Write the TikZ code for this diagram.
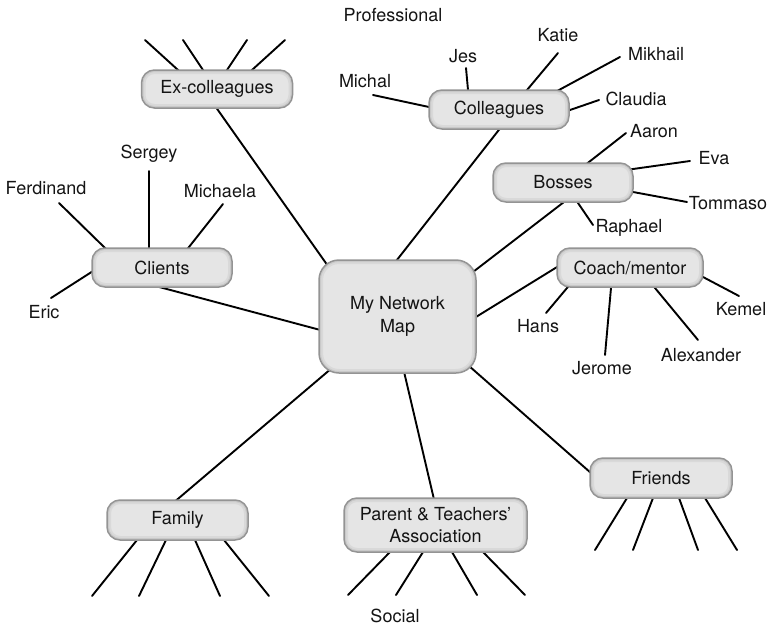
\documentclass[tikz,border=0pt]{standalone}
\usepackage{fontspec}
\setmainfont{TeX Gyre Heros}
\usetikzlibrary{backgrounds,calc}
\begin{document}
\begin{tikzpicture}[x=1pt,y=-1pt,
  every node/.style={font=\fontsize{18}{22.5}\selectfont, text=black!92},
  hub/.style={draw=black!42, line width=1.5pt, fill=black!10,
    rounded corners=#1, inner sep=0pt, align=center,
    path picture={
      \draw[black!15, line width=8pt, rounded corners=#1]
        (path picture bounding box.south west) rectangle (path picture bounding box.north east);
      \draw[black!21, line width=4pt, rounded corners=#1]
        (path picture bounding box.south west) rectangle (path picture bounding box.north east);
    }},
  hub/.default=13pt,
  lbl/.style={inner sep=0pt, text height=13pt, text depth=0pt},
  link/.style={line width=1.9pt, black, line cap=round, shorten >=-4pt},
  hublink/.style={line width=1.9pt, black, shorten >=-4pt, shorten <=-4pt}]
\useasboundingbox (0,0) rectangle (770,626);

% central node and group boxes
\node[hub=20pt, minimum width=157pt, minimum height=113pt]
  (map) at (397.5,316.5) {My Network\\Map};
\node[hub, minimum width=151pt, minimum height=38pt] (excol) at (217,89) {Ex-colleagues};
\node[hub, minimum width=140pt, minimum height=39pt] (coll) at (499,109.5) {Colleagues};
\node[hub, minimum width=140pt, minimum height=39pt] (boss) at (563,182.5) {Bosses};
\node[hub, minimum width=146pt, minimum height=39pt] (coach) at (630,267.5) {Coach/mentor};
\node[hub, minimum width=140pt, minimum height=39pt] (cli) at (162,267.5) {Clients};
\node[hub, minimum width=142pt, minimum height=40pt] (fri) at (661,478) {Friends};
\node[hub, minimum width=141pt, minimum height=40pt] (fam) at (177.5,520) {Family};
\node[hub, minimum width=183pt, minimum height=54pt, font=\fontsize{18}{22}\selectfont]
  (pta) at (435.5,525) {Parent \& Teachers’\\Association};

% section headings
\node[lbl] (prof) at (393,15) {Professional};
\node[lbl] (soc) at (395,616) {Social};

% people
\node[lbl] (michal) at (365,81) {Michal};
\node[lbl] (jes) at (463,56) {Jes};
\node[lbl] (katie) at (558,35) {Katie};
\node[lbl] (mikhail) at (656,54) {Mikhail};
\node[lbl] (claudia) at (636,99) {Claudia};
\node[lbl] (aaron) at (654,131) {Aaron};
\node[lbl] (eva) at (714,158) {Eva};
\node[lbl] (tommaso) at (728,203) {Tommaso};
\node[lbl] (raphael) at (629,226) {Raphael};
\node[lbl] (hans) at (538,326) {Hans};
\node[lbl] (jerome) at (602,368) {Jerome};
\node[lbl] (alexander) at (701,355) {Alexander};
\node[lbl] (kemel) at (741,309) {Kemel};
\node[lbl] (sergey) at (149,152) {Sergey};
\node[lbl] (ferdinand) at (46,188) {Ferdinand};
\node[lbl] (michaela) at (220,191) {Michaela};
\node[lbl] (eric) at (44,312) {Eric};

\begin{pgfonlayer}{background}
  % links between the central node and the groups
  \draw[hublink] (excol.south) -- ($(map.north west)+(12,10)$);
  \draw[hublink] (coll.south) -- (map.north);
  \draw[hublink] (boss.south) -- ($(map.north east)+(-8,16)$);
  \draw[hublink] (coach.west) -- (map.east);
  \draw[hublink] (cli.south) -- ($(map.west)+(4,14)$);
  \draw[hublink] ($(map.south east)+(-8,-8)$) -- ($(fri.west)+(4,-3)$);
  \draw[hublink] ($(map.south west)+(14,-6)$) -- (fam.north);
  \draw[hublink] ($(map.south)+(7,0)$) -- ($(pta.north)+(-2,0)$);

  % links from people to their groups: free end, group, offset into the group
  \foreach \n/\px/\py/\g/\dx/\dy in {
      e-michal/373/95/coll/-70/-2.5,
      e-jes/466/68/coll/-31/-19.5,
      e-katie/558/53/coll/28/-19.5,
      e-mikhail/620/57/coll/60/-19.5,
      e-claudia/599/100/coll/71/0.5,
      e-aaron/626/133/boss/26/-20.5,
      e-eva/690/161/boss/70/-13.5,
      e-tommaso/687/202/boss/70/9.5,
      e-raphael/593/225/boss/15/20.5,
      e-hans/546/313/coach/-63/20.5,
      e-jerome/605/355/coach/-19/20.5,
      e-alexander/698/340/coach/25/20.5,
      e-kemel/739/296/coach/73/9.5,
      e-sergey/149/171/cli/-13/-19.5,
      e-ferdinand/59/203/cli/-58/-20.5,
      e-michaela/223/204/cli/27/-20.5,
      e-eric/51/298/cli/-72/5.5,
      e-ex1/145/40/excol/-39/-19,
      e-ex2/183/40/excol/-14/-19,
      e-ex3/247/40/excol/10/-19,
      e-ex4/285/40/excol/35/-19,
      e-fr1/595/550/fri/-34/20,
      e-fr2/633/550/fri/-8/20,
      e-fr3/698/550/fri/18/20,
      e-fr4/737/550/fri/44/20,
      e-fa1/92/596/fam/-40.5/20,
      e-fa2/139/596/fam/-11.5/20,
      e-fa3/220/596/fam/17.5/20,
      e-fa4/269/596/fam/46.5/20,
      e-pt1/348/595/pta/-45.5/27,
      e-pt2/396/595/pta/-12.5/27,
      e-pt3/477/595/pta/16.5/27,
      e-pt4/525/595/pta/47.5/27}
  {
    \coordinate (\n) at (\px,\py);
    \draw[link] (\n) -- ($(\g.center)+(\dx,\dy)$);
  }
\end{pgfonlayer}
\end{tikzpicture}
\end{document}
